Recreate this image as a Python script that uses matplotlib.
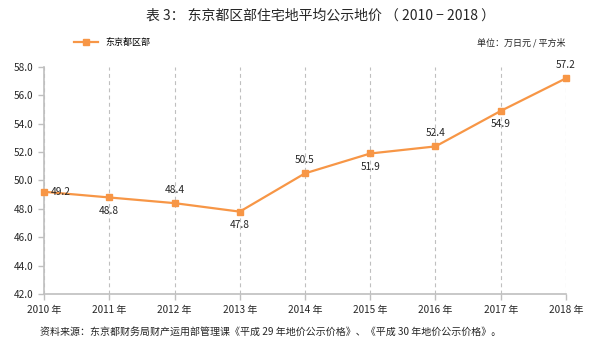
import matplotlib
matplotlib.use("Agg")
import matplotlib.pyplot as plt

plt.rcParams['font.family'] = ['Noto Sans CJK SC', 'DejaVu Sans']

years = ["2010 年", "2011 年", "2012 年", "2013 年", "2014 年",
         "2015 年", "2016 年", "2017 年", "2018 年"]
prices = [49.2, 48.8, 48.4, 47.8, 50.5, 51.9, 52.4, 54.9, 57.2]
# label placement: 'r' right, 'a' above, 'b' below
label_pos = ['r', 'b', 'a', 'b', 'a', 'b', 'a', 'b', 'a']

orange = '#F79646'
grey = '#BFBFBF'
txt = '#262626'

fig = plt.figure(figsize=(6.03, 3.47), dpi=100)
ax = fig.add_axes([0.073, 0.153, 0.8656, 0.654])

x = list(range(len(years)))
ax.plot(x, prices, color=orange, lw=1.6, marker='s', ms=5, label="东京都区部",
        clip_on=False, zorder=3)

for xi, v, p in zip(x, prices, label_pos):
    if p == 'r':
        ax.annotate(f"{v:.1f}", (xi, v), xytext=(5, 0), textcoords='offset points',
                    ha='left', va='center', fontsize=7.3, color=txt)
    elif p == 'a':
        ax.annotate(f"{v:.1f}", (xi, v), xytext=(0, 6), textcoords='offset points',
                    ha='center', va='bottom', fontsize=7.3, color=txt)
    else:
        ax.annotate(f"{v:.1f}", (xi, v), xytext=(0, -6), textcoords='offset points',
                    ha='center', va='top', fontsize=7.3, color=txt)

ax.set_xlim(0, len(years) - 1)
ax.set_ylim(42, 58)
ax.set_yticks([42 + 2 * i for i in range(9)])
ax.set_yticklabels([f"{42 + 2 * i:.1f}" for i in range(9)], fontsize=7.2, color=txt)
ax.set_xticks(x)
ax.set_xticklabels(years, fontsize=7.2, color=txt)

ax.grid(axis='x', color=grey, ls=(0, (3.5, 3)), lw=0.8)
for s in ['top', 'right']:
    ax.spines[s].set_visible(False)
for s in ['left', 'bottom']:
    ax.spines[s].set_color(grey)
    ax.spines[s].set_linewidth(1.2)
ax.tick_params(axis='both', colors=grey, length=4, width=1, labelcolor=txt)
ax.tick_params(axis='x', pad=4)

fig.text(0.532, 0.955, "表 3： 东京都区部住宅地平均公示地价 （ 2010 − 2018 ）",
         ha='center', va='center', fontsize=10, color='#262626')
ax.legend(loc='center left', frameon=False, fontsize=6.5, handlelength=2.6)
leg = ax.get_legend()
leg.set_bbox_to_anchor((0.11, 0.878), transform=fig.transFigure)
fig.text(0.937, 0.878, "单位：万日元 / 平方米", ha='right', va='center',
         fontsize=6.5, color=txt)
fig.text(0.066, 0.045,
         "资料来源：东京都财务局财产运用部管理课《平成 29 年地价公示价格》、《平成 30 年地价公示价格》。",
         ha='left', va='center', fontsize=7.2, color=txt)

fig.savefig("out.png", dpi=100)
